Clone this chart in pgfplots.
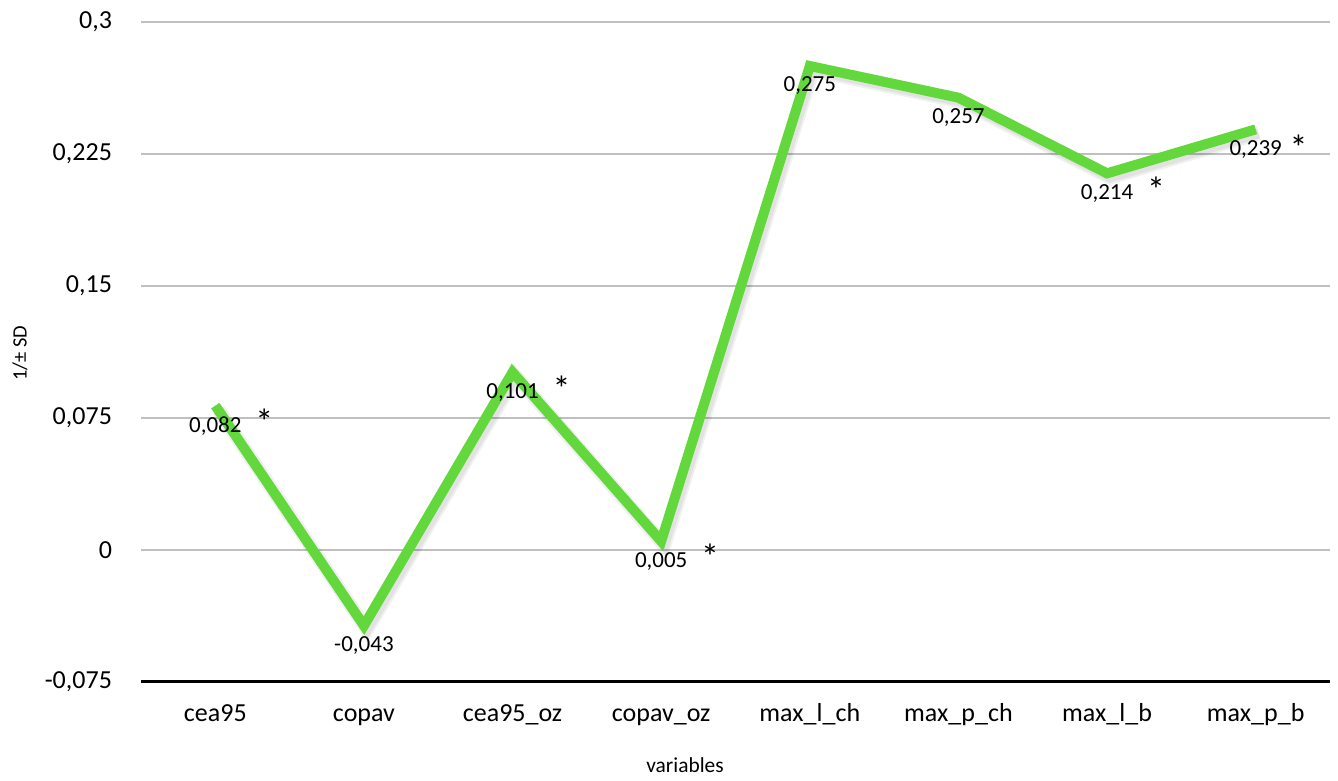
\documentclass[border=0pt]{standalone}
\usepackage{fontspec}
\setmainfont{Carlito}
\usepackage{pgfplots}
\pgfplotsset{compat=1.18}
\definecolor{linegreen}{HTML}{63D83C}
\definecolor{gridgray}{HTML}{BFBFBF}

\begin{document}
\begin{tikzpicture}
  \begin{axis}[
    at={(0,0)}, anchor=south west,
    scale only axis,
    width=594.5pt, height=330pt,
    xmin=-0.5, xmax=7.5,
    ymin=-0.075, ymax=0.3,
    axis x line*=bottom,
    axis y line*=left,
    x axis line style={-, black, line width=1.5pt},
    y axis line style={draw=none},
    xtick={0,...,7},
    xticklabels={cea95, copav, cea95\_oz, copav\_oz, max\_l\_ch, max\_p\_ch, max\_l\_b, max\_p\_b},
    ytick={-0.075,0,0.075,0.15,0.225,0.3},
    yticklabels={{-0,075},0,{0,075},{0,15},{0,225},{0,3}},
    major tick length=0pt,
    ymajorgrids,
    major grid style={gridgray, line width=0.6pt},
    tick label style={font=\fontsize{13}{15}\selectfont},
    xticklabel style={anchor=base, yshift=-19.6pt},
    yticklabel style={anchor=east, xshift=-11pt},
    xlabel={variables},
    xlabel style={font=\fontsize{10.7}{12}\selectfont, at={(axis description cs:0.4575,-0.126)}, anchor=center},
    ylabel={1/± SD},
    ylabel style={font=\fontsize{10.2}{12}\selectfont, at={(axis description cs:-0.1018,0.4985)}, anchor=center},
    clip=false,
  ]
  % soft shadow
  \addplot[black, opacity=0.06, line width=7pt, line join=miter, xshift=1.5pt, yshift=-2pt, forget plot]
    coordinates {(0,0.082) (1,-0.043) (2,0.101) (3,0.005) (4,0.275) (5,0.257) (6,0.214) (7,0.239)};
  \addplot[black, opacity=0.06, line width=5pt, line join=miter, xshift=1.5pt, yshift=-2pt, forget plot]
    coordinates {(0,0.082) (1,-0.043) (2,0.101) (3,0.005) (4,0.275) (5,0.257) (6,0.214) (7,0.239)};
  % main series with value labels
  \addplot[linegreen, line width=5pt, line join=miter, mark=none,
    nodes near coords, point meta=explicit symbolic,
    every node near coord/.style={font=\fontsize{11.5}{13}\selectfont, black, anchor=center, yshift=-10pt}]
    coordinates {(0,0.082) [0,082] (1,-0.043) [-0,043] (2,0.101) [0,101] (3,0.005) [0,005]
                 (4,0.275) [0,275] (5,0.257) [0,257] (6,0.214) [0,214] (7,0.239) [0,239]};
  % significance asterisks
  \addplot[draw=none, mark=none,
    nodes near coords={*},
    every node near coord/.style={font=\fontsize{18}{20}\selectfont, black, anchor=center, xshift=24.5pt, yshift=-8pt}]
    coordinates {(0,0.082) (2,0.101) (3,0.005) (6,0.214)};
  \addplot[draw=none, mark=none,
    nodes near coords={*},
    every node near coord/.style={font=\fontsize{18}{20}\selectfont, black, anchor=center, xshift=21.5pt, yshift=-9pt}]
    coordinates {(7,0.239)};
  \end{axis}
  \pgfresetboundingbox
  \path[use as bounding box] (-70.5pt,-49.5pt) rectangle (598.5pt,341pt);
\end{tikzpicture}
\end{document}
